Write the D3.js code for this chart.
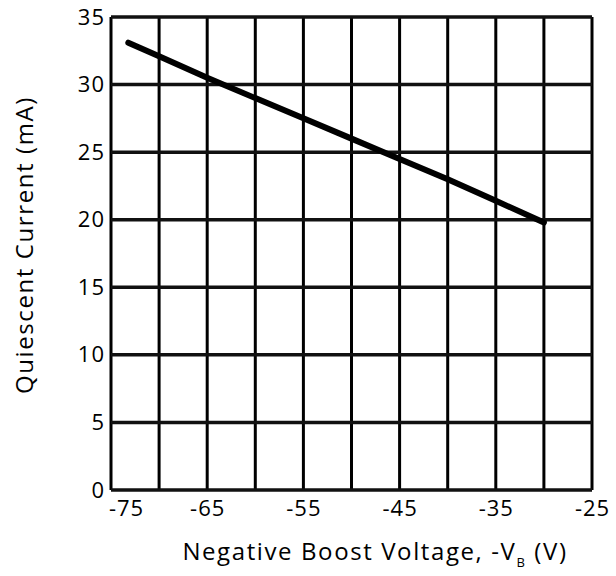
<!DOCTYPE html>
<html><head><meta charset="utf-8">
<script src="https://cdn.jsdelivr.net/npm/d3@7"></script>
<style>body{margin:0;background:#fff}svg{display:block}text{font-family:"Open Sans",sans-serif;fill:#000}</style>
</head><body><svg id="c" width="616" height="576"></svg>
<script>
const voltage = [-73.2, -70, -65, -60, -55, -50, -45, -40, -35, -30];
const current = [33.1, 32.1, 30.5, 29.0, 27.5, 26.0, 24.5, 23.0, 21.4, 19.8];
const xTickLabels = [-75, -65, -55, -45, -35, -25];
const yTickLabels = [0, 5, 10, 15, 20, 25, 30, 35];
const xGrid = d3.range(-75, -24, 5);

const svg = d3.select("#c");
const L = 111, R = 592, T = 17, B = 490;
const FONT = "'Open Sans',sans-serif";
const x = d3.scaleLinear().domain([-75, -25]).range([L, R]);
const y = d3.scaleLinear().domain([0, 35]).range([B, T]);

const g = svg.append("g");
g.selectAll(".vg").data(xGrid).join("line")
  .attr("x1", d => x(d)).attr("x2", d => x(d)).attr("y1", T).attr("y2", B)
  .attr("stroke", "#000").attr("stroke-width", 3);
g.selectAll(".hg").data(yTickLabels).join("line")
  .attr("x1", L).attr("x2", R).attr("y1", d => y(d)).attr("y2", d => y(d))
  .attr("stroke", "#111").attr("stroke-width", 3.5);

const xa = svg.append("g").attr("transform", `translate(0,${B})`)
  .call(d3.axisBottom(x).tickValues(xTickLabels).tickSize(0).tickPadding(10).tickFormat(d => String(d)));
xa.select(".domain").remove();
xa.selectAll("text").attr("font-size", 22).style("font-family", FONT).style("letter-spacing", "1px").attr("fill", "#000")
  .attr("dx", d => d === -75 ? 15 : 0);
const ya = svg.append("g").attr("transform", `translate(${L},0)`)
  .call(d3.axisLeft(y).tickValues(yTickLabels).tickSize(0).tickPadding(6).tickFormat(d => String(d)));
ya.select(".domain").remove();
ya.selectAll("text").attr("font-size", 22).style("font-family", FONT).style("letter-spacing", "1px").attr("fill", "#000");

const data = voltage.map((v, i) => [v, current[i]]);
svg.append("path").datum(data)
  .attr("d", d3.line().x(d => x(d[0])).y(d => y(d[1])))
  .attr("fill", "none").attr("stroke", "#000").attr("stroke-width", 6).attr("stroke-linecap", "round");

const xt = svg.append("text").attr("x", 375).attr("y", 560).attr("text-anchor", "middle")
  .attr("font-size", 24).style("letter-spacing", "1.6px");
xt.append("tspan").text("Negative Boost Voltage, -V");
xt.append("tspan").attr("font-size", 13).attr("dy", 7).text("B");
xt.append("tspan").attr("dy", -7).text(" (V)");

svg.append("text").attr("transform", `translate(33,245) rotate(-90)`)
  .attr("text-anchor", "middle").attr("font-size", 24).style("letter-spacing", "1.6px").text("Quiescent Current (mA)");
</script></body></html>
